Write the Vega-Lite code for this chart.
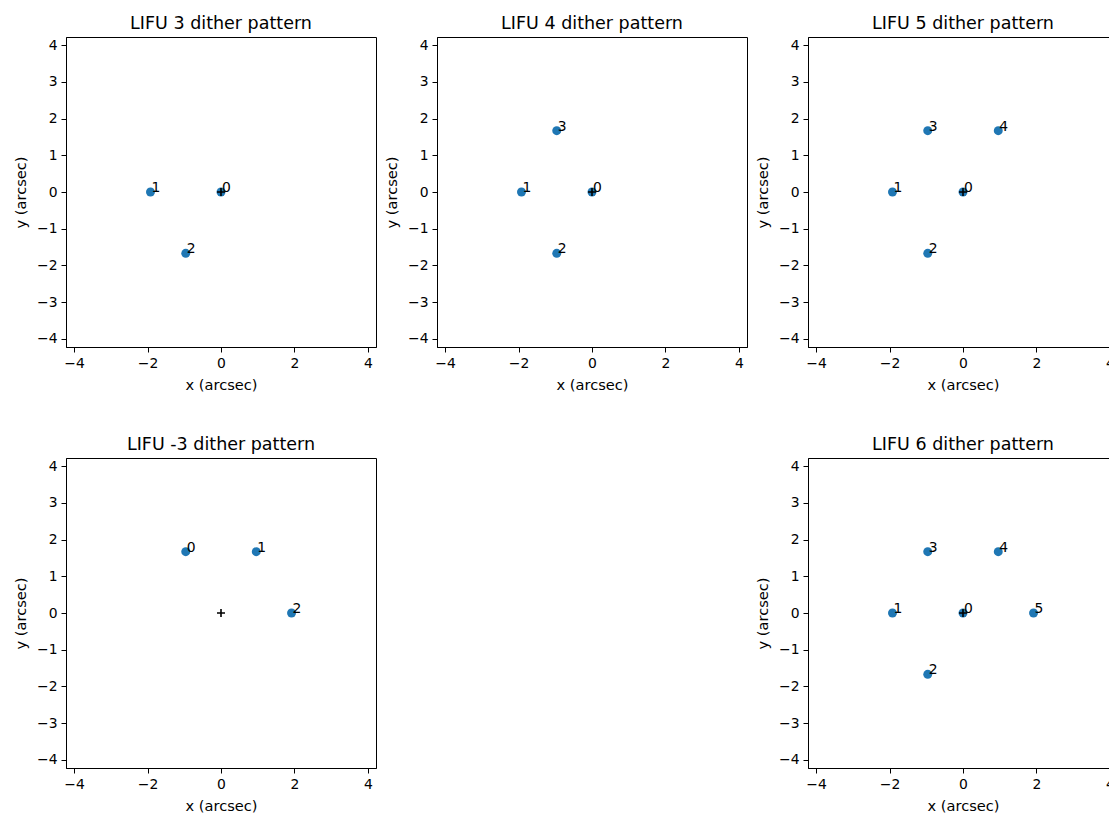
{
  "$schema": "https://vega.github.io/schema/vega-lite/v6.json",
  "padding": {"left": 13, "top": 14, "right": 0, "bottom": 0},
  "background": "white",
  "datasets": {
    "pts": [
      {"panel": "LIFU 3", "kind": "dither", "label": "0", "x": 0, "y": 0},
      {"panel": "LIFU 3", "kind": "dither", "label": "1", "x": -1.92, "y": 0},
      {"panel": "LIFU 3", "kind": "dither", "label": "2", "x": -0.96, "y": -1.67},
      {"panel": "LIFU 3", "kind": "center", "label": "", "x": 0, "y": 0},
      {"panel": "LIFU 4", "kind": "dither", "label": "0", "x": 0, "y": 0},
      {"panel": "LIFU 4", "kind": "dither", "label": "1", "x": -1.92, "y": 0},
      {"panel": "LIFU 4", "kind": "dither", "label": "2", "x": -0.96, "y": -1.67},
      {"panel": "LIFU 4", "kind": "dither", "label": "3", "x": -0.96, "y": 1.67},
      {"panel": "LIFU 4", "kind": "center", "label": "", "x": 0, "y": 0},
      {"panel": "LIFU 5", "kind": "dither", "label": "0", "x": 0, "y": 0},
      {"panel": "LIFU 5", "kind": "dither", "label": "1", "x": -1.92, "y": 0},
      {"panel": "LIFU 5", "kind": "dither", "label": "2", "x": -0.96, "y": -1.67},
      {"panel": "LIFU 5", "kind": "dither", "label": "3", "x": -0.96, "y": 1.67},
      {"panel": "LIFU 5", "kind": "dither", "label": "4", "x": 0.96, "y": 1.67},
      {"panel": "LIFU 5", "kind": "center", "label": "", "x": 0, "y": 0},
      {"panel": "LIFU -3", "kind": "dither", "label": "0", "x": -0.96, "y": 1.67},
      {"panel": "LIFU -3", "kind": "dither", "label": "1", "x": 0.96, "y": 1.67},
      {"panel": "LIFU -3", "kind": "dither", "label": "2", "x": 1.92, "y": 0},
      {"panel": "LIFU -3", "kind": "center", "label": "", "x": 0, "y": 0},
      {"panel": "LIFU 6", "kind": "dither", "label": "0", "x": 0, "y": 0},
      {"panel": "LIFU 6", "kind": "dither", "label": "1", "x": -1.92, "y": 0},
      {"panel": "LIFU 6", "kind": "dither", "label": "2", "x": -0.96, "y": -1.67},
      {"panel": "LIFU 6", "kind": "dither", "label": "3", "x": -0.96, "y": 1.67},
      {"panel": "LIFU 6", "kind": "dither", "label": "4", "x": 0.96, "y": 1.67},
      {"panel": "LIFU 6", "kind": "dither", "label": "5", "x": 1.92, "y": 0},
      {"panel": "LIFU 6", "kind": "center", "label": "", "x": 0, "y": 0}
    ]
  },
  "data": {"name": "pts"},
  "columns": 3,
  "bounds": "flush",
  "spacing": {"column": 61, "row": 111},
  "concat": [
    {
      "title": "LIFU 3 dither pattern",
      "width": 310, "height": 310,
      "transform": [{"filter": "datum.panel == 'LIFU 3'"}],
      "encoding": {
        "x": {"field": "x", "type": "quantitative", "scale": {"domain": [-4.22, 4.22], "nice": false, "zero": false}, "axis": {"values": [-4, -2, 0, 2, 4], "title": "x (arcsec)"}},
        "y": {"field": "y", "type": "quantitative", "scale": {"domain": [-4.22, 4.22], "nice": false, "zero": false}, "axis": {"values": [-4, -3, -2, -1, 0, 1, 2, 3, 4], "title": "y (arcsec)"}}
      },
      "layer": [
        {"transform": [{"filter": "datum.kind == 'dither'"}], "mark": {"type": "circle", "size": 80, "color": "#1f77b4", "opacity": 1}},
        {"transform": [{"filter": "datum.kind == 'center'"}], "mark": {"type": "point", "shape": "M-1,0L1,0M0,-1L0,1", "size": 64, "stroke": "black", "strokeWidth": 1.6, "filled": false, "opacity": 1}},
        {"transform": [{"filter": "datum.kind == 'dither'"}], "mark": {"type": "text", "align": "left", "baseline": "alphabetic", "dx": 1, "font": "DejaVu Sans", "fontSize": 13.9, "color": "black"}, "encoding": {"text": {"field": "label"}}}
      ]
    },
    {
      "title": "LIFU 4 dither pattern",
      "width": 310, "height": 310,
      "transform": [{"filter": "datum.panel == 'LIFU 4'"}],
      "encoding": {
        "x": {"field": "x", "type": "quantitative", "scale": {"domain": [-4.22, 4.22], "nice": false, "zero": false}, "axis": {"values": [-4, -2, 0, 2, 4], "title": "x (arcsec)"}},
        "y": {"field": "y", "type": "quantitative", "scale": {"domain": [-4.22, 4.22], "nice": false, "zero": false}, "axis": {"values": [-4, -3, -2, -1, 0, 1, 2, 3, 4], "title": "y (arcsec)"}}
      },
      "layer": [
        {"transform": [{"filter": "datum.kind == 'dither'"}], "mark": {"type": "circle", "size": 80, "color": "#1f77b4", "opacity": 1}},
        {"transform": [{"filter": "datum.kind == 'center'"}], "mark": {"type": "point", "shape": "M-1,0L1,0M0,-1L0,1", "size": 64, "stroke": "black", "strokeWidth": 1.6, "filled": false, "opacity": 1}},
        {"transform": [{"filter": "datum.kind == 'dither'"}], "mark": {"type": "text", "align": "left", "baseline": "alphabetic", "dx": 1, "font": "DejaVu Sans", "fontSize": 13.9, "color": "black"}, "encoding": {"text": {"field": "label"}}}
      ]
    },
    {
      "title": "LIFU 5 dither pattern",
      "width": 310, "height": 310,
      "transform": [{"filter": "datum.panel == 'LIFU 5'"}],
      "encoding": {
        "x": {"field": "x", "type": "quantitative", "scale": {"domain": [-4.22, 4.22], "nice": false, "zero": false}, "axis": {"values": [-4, -2, 0, 2, 4], "title": "x (arcsec)"}},
        "y": {"field": "y", "type": "quantitative", "scale": {"domain": [-4.22, 4.22], "nice": false, "zero": false}, "axis": {"values": [-4, -3, -2, -1, 0, 1, 2, 3, 4], "title": "y (arcsec)"}}
      },
      "layer": [
        {"transform": [{"filter": "datum.kind == 'dither'"}], "mark": {"type": "circle", "size": 80, "color": "#1f77b4", "opacity": 1}},
        {"transform": [{"filter": "datum.kind == 'center'"}], "mark": {"type": "point", "shape": "M-1,0L1,0M0,-1L0,1", "size": 64, "stroke": "black", "strokeWidth": 1.6, "filled": false, "opacity": 1}},
        {"transform": [{"filter": "datum.kind == 'dither'"}], "mark": {"type": "text", "align": "left", "baseline": "alphabetic", "dx": 1, "font": "DejaVu Sans", "fontSize": 13.9, "color": "black"}, "encoding": {"text": {"field": "label"}}}
      ]
    },
    {
      "title": "LIFU -3 dither pattern",
      "width": 310, "height": 310,
      "transform": [{"filter": "datum.panel == 'LIFU -3'"}],
      "encoding": {
        "x": {"field": "x", "type": "quantitative", "scale": {"domain": [-4.22, 4.22], "nice": false, "zero": false}, "axis": {"values": [-4, -2, 0, 2, 4], "title": "x (arcsec)"}},
        "y": {"field": "y", "type": "quantitative", "scale": {"domain": [-4.22, 4.22], "nice": false, "zero": false}, "axis": {"values": [-4, -3, -2, -1, 0, 1, 2, 3, 4], "title": "y (arcsec)"}}
      },
      "layer": [
        {"transform": [{"filter": "datum.kind == 'dither'"}], "mark": {"type": "circle", "size": 80, "color": "#1f77b4", "opacity": 1}},
        {"transform": [{"filter": "datum.kind == 'center'"}], "mark": {"type": "point", "shape": "M-1,0L1,0M0,-1L0,1", "size": 64, "stroke": "black", "strokeWidth": 1.6, "filled": false, "opacity": 1}},
        {"transform": [{"filter": "datum.kind == 'dither'"}], "mark": {"type": "text", "align": "left", "baseline": "alphabetic", "dx": 1, "font": "DejaVu Sans", "fontSize": 13.9, "color": "black"}, "encoding": {"text": {"field": "label"}}}
      ]
    },
    {
      "width": 310, "height": 310,
      "view": {"stroke": null},
      "transform": [{"filter": "false"}],
      "mark": {"type": "point", "opacity": 0},
      "encoding": {}
    },
    {
      "title": "LIFU 6 dither pattern",
      "width": 310, "height": 310,
      "transform": [{"filter": "datum.panel == 'LIFU 6'"}],
      "encoding": {
        "x": {"field": "x", "type": "quantitative", "scale": {"domain": [-4.22, 4.22], "nice": false, "zero": false}, "axis": {"values": [-4, -2, 0, 2, 4], "title": "x (arcsec)"}},
        "y": {"field": "y", "type": "quantitative", "scale": {"domain": [-4.22, 4.22], "nice": false, "zero": false}, "axis": {"values": [-4, -3, -2, -1, 0, 1, 2, 3, 4], "title": "y (arcsec)"}}
      },
      "layer": [
        {"transform": [{"filter": "datum.kind == 'dither'"}], "mark": {"type": "circle", "size": 80, "color": "#1f77b4", "opacity": 1}},
        {"transform": [{"filter": "datum.kind == 'center'"}], "mark": {"type": "point", "shape": "M-1,0L1,0M0,-1L0,1", "size": 64, "stroke": "black", "strokeWidth": 1.6, "filled": false, "opacity": 1}},
        {"transform": [{"filter": "datum.kind == 'dither'"}], "mark": {"type": "text", "align": "left", "baseline": "alphabetic", "dx": 1, "font": "DejaVu Sans", "fontSize": 13.9, "color": "black"}, "encoding": {"text": {"field": "label"}}}
      ]
    }
  ],
  "config": {
    "font": "DejaVu Sans",
    "view": {"stroke": "black", "strokeWidth": 1},
    "title": {"fontSize": 17.5, "fontWeight": "normal", "color": "black", "offset": 5, "anchor": "middle", "font": "DejaVu Sans"},
    "axis": {
      "grid": false,
      "domain": true,
      "domainColor": "black",
      "tickColor": "black",
      "tickSize": 5,
      "tickWidth": 1,
      "labelColor": "black",
      "labelFont": "DejaVu Sans",
      "labelFontSize": 13.9,
      "labelPadding": 4,
      "titleFont": "DejaVu Sans",
      "titleFontSize": 14.6,
      "titleFontWeight": "normal",
      "titleColor": "black",
      "titlePadding": 8
    }
  }
}
